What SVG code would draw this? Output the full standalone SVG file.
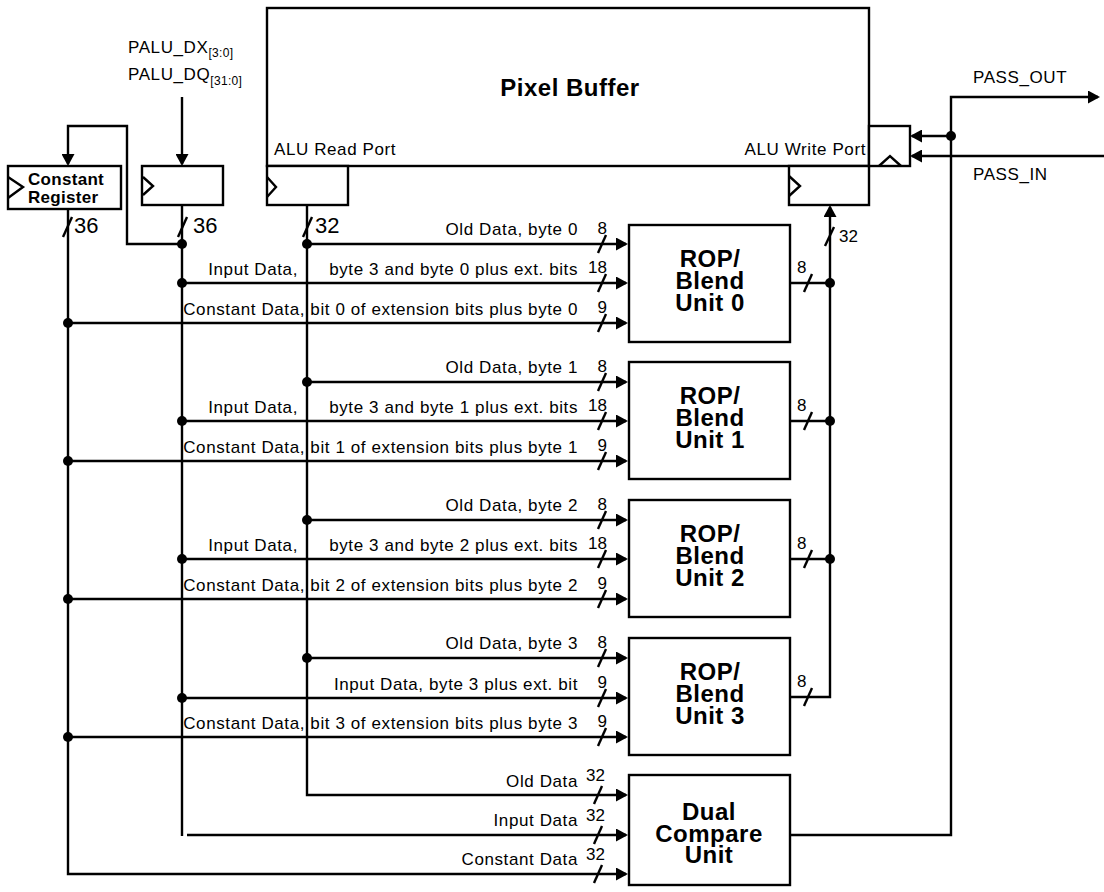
<svg xmlns="http://www.w3.org/2000/svg" width="1104" height="892" viewBox="0 0 1104 892">
<style>
.box{fill:#fff;stroke:#000;stroke-width:2.4}
.w{fill:none;stroke:#000;stroke-width:2.4}
.a{fill:none;stroke:#000;stroke-width:2.4;marker-end:url(#ah)}
.s{stroke:#000;stroke-width:2.4}
.t{font-family:"Liberation Sans",Arial,Helvetica,sans-serif;font-size:17px;letter-spacing:0.6px;fill:#000}
.n{font-family:"Liberation Sans",Arial,Helvetica,sans-serif;font-size:17px;fill:#000}
.big{font-family:"Liberation Sans",Arial,Helvetica,sans-serif;font-size:22px;fill:#000}
.sub{font-family:"Liberation Sans",Arial,Helvetica,sans-serif;font-size:12px;fill:#000}
.bt{font-family:"Liberation Sans",Arial,Helvetica,sans-serif;font-weight:bold;font-size:24px;letter-spacing:0.5px;text-anchor:middle;fill:#000}
.cr{font-family:"Liberation Sans",Arial,Helvetica,sans-serif;font-weight:bold;font-size:17px;letter-spacing:0.3px;fill:#000}
.e{text-anchor:end}
</style>
<defs>
<marker id="ah" markerUnits="userSpaceOnUse" markerWidth="12" markerHeight="13" refX="10" refY="6.5" orient="auto">
<path d="M0,0 L12,6.5 L0,13 z" fill="#000"/>
</marker>
</defs>

<g id="connectors">
<!-- feedback & input -->
<path class="a" d="M182,97 V164"/>
<path class="a" d="M182,244 H127 V126 H68 V164"/>
<!-- read port bus -->
<path class="a" d="M307,205 V795 H626"/>
<path class="a" d="M307,244 H626"/>
<path class="a" d="M307,382 H626"/>
<path class="a" d="M307,520 H626"/>
<path class="a" d="M307,658 H626"/>
<!-- input bus -->
<path class="w" d="M182,205 V836"/>
<path class="a" d="M187,835 H626"/>
<path class="a" d="M182,283 H626"/>
<path class="a" d="M182,421 H626"/>
<path class="a" d="M182,559 H626"/>
<path class="a" d="M182,698 H626"/>
<!-- constant bus -->
<path class="a" d="M68,209 V874 H626"/>
<path class="a" d="M68,323 H626"/>
<path class="a" d="M68,461 H626"/>
<path class="a" d="M68,599 H626"/>
<path class="a" d="M68,737 H626"/>
<!-- unit outputs -->
<path class="w" d="M790,283 H830"/>
<path class="w" d="M790,421 H830"/>
<path class="w" d="M790,559 H830"/>
<path class="a" d="M790,697 H830 V207"/>
<!-- dual compare output / pass -->
<path class="a" d="M790,835 H951 V97 H1098"/>
<path class="a" d="M951,136 H912"/>
<path class="a" d="M1104,156 H912"/>
<!-- dots -->
<g fill="#000">
<circle cx="182" cy="244" r="5"/><circle cx="307" cy="244" r="5"/>
<circle cx="182" cy="283" r="5"/><circle cx="68" cy="323" r="5"/>
<circle cx="307" cy="382" r="5"/><circle cx="182" cy="421" r="5"/><circle cx="68" cy="461" r="5"/>
<circle cx="307" cy="520" r="5"/><circle cx="182" cy="559" r="5"/><circle cx="68" cy="599" r="5"/>
<circle cx="307" cy="658" r="5"/><circle cx="182" cy="698" r="5"/><circle cx="68" cy="737" r="5"/>
<circle cx="830" cy="283" r="5"/><circle cx="830" cy="421" r="5"/><circle cx="830" cy="559" r="5"/>
<circle cx="951" cy="136" r="5"/>
</g>
<!-- bus slashes -->
<g class="s">
<line x1="63" y1="237" x2="72" y2="217"/>
<line x1="178" y1="237" x2="187" y2="217"/>
<line x1="303" y1="237" x2="312" y2="217"/>
<line x1="825" y1="246" x2="834" y2="227"/>
<line x1="598" y1="253" x2="606" y2="235"/>
<line x1="598" y1="292" x2="606" y2="274"/>
<line x1="598" y1="332" x2="606" y2="314"/>
<line x1="598" y1="391" x2="606" y2="373"/>
<line x1="598" y1="430" x2="606" y2="412"/>
<line x1="598" y1="470" x2="606" y2="452"/>
<line x1="598" y1="529" x2="606" y2="511"/>
<line x1="598" y1="568" x2="606" y2="550"/>
<line x1="598" y1="608" x2="606" y2="590"/>
<line x1="598" y1="667" x2="606" y2="649"/>
<line x1="598" y1="707" x2="606" y2="689"/>
<line x1="598" y1="746" x2="606" y2="728"/>
<line x1="594" y1="804" x2="602" y2="786"/>
<line x1="594" y1="844" x2="602" y2="826"/>
<line x1="594" y1="883" x2="602" y2="865"/>
<line x1="804" y1="292" x2="812" y2="274"/>
<line x1="804" y1="430" x2="812" y2="412"/>
<line x1="804" y1="568" x2="812" y2="550"/>
<line x1="804" y1="706" x2="812" y2="688"/>
</g>
<!-- bus widths -->
<text class="big" x="74" y="233">36</text>
<text class="big" x="193" y="233">36</text>
<text class="big" x="315" y="233">32</text>
<text class="n" x="839" y="242">32</text>
<g class="n e">
<text x="607" y="234">8</text><text x="607" y="273">18</text><text x="607" y="313">9</text>
<text x="607" y="372">8</text><text x="607" y="411">18</text><text x="607" y="451">9</text>
<text x="607" y="510">8</text><text x="607" y="549">18</text><text x="607" y="589">9</text>
<text x="607" y="648">8</text><text x="607" y="688">9</text><text x="607" y="727">9</text>
<text x="605" y="781">32</text><text x="605" y="821">32</text><text x="605" y="860">32</text>
</g>
<g class="n">
<text x="797" y="273">8</text><text x="797" y="411">8</text><text x="797" y="549">8</text><text x="797" y="687">8</text>
</g>
<!-- line labels -->
<g class="t e">
<text x="578" y="235">Old Data, byte 0</text>
<text x="298" y="275">Input Data,</text><text x="578" y="275">byte 3 and byte 0 plus ext. bits</text>
<text x="578" y="315">Constant Data, bit 0 of extension bits plus byte 0</text>
<text x="578" y="373">Old Data, byte 1</text>
<text x="298" y="413">Input Data,</text><text x="578" y="413">byte 3 and byte 1 plus ext. bits</text>
<text x="578" y="453">Constant Data, bit 1 of extension bits plus byte 1</text>
<text x="578" y="511">Old Data, byte 2</text>
<text x="298" y="551">Input Data,</text><text x="578" y="551">byte 3 and byte 2 plus ext. bits</text>
<text x="578" y="591">Constant Data, bit 2 of extension bits plus byte 2</text>
<text x="578" y="649">Old Data, byte 3</text>
<text x="578" y="690">Input Data, byte 3 plus ext. bit</text>
<text x="578" y="729">Constant Data, bit 3 of extension bits plus byte 3</text>
<text x="578" y="787">Old Data</text>
<text x="578" y="826">Input Data</text>
<text x="578" y="865">Constant Data</text>
</g>
<text class="t" x="973" y="83">PASS_OUT</text>
<text class="t" x="973" y="180">PASS_IN</text>
<text class="t" x="128" y="53">PALU_DX<tspan class="sub" dy="4" letter-spacing="0.3">[3:0]</tspan></text>
<text class="t" x="128" y="80">PALU_DQ<tspan class="sub" dy="5" letter-spacing="0.3">[31:0]</tspan></text>
</g>

<g id="pixel-buffer">
<rect class="box" x="267" y="8" width="602" height="158"/>
<text class="bt" x="570" y="96" font-size="25">Pixel Buffer</text>
<text class="t" x="274" y="155">ALU Read Port</text>
<text class="t e" x="866" y="155">ALU Write Port</text>
</g>
<g id="read-port-reg">
<rect class="box" x="267" y="166" width="81" height="39"/>
<path class="w" d="M267,177 L276,187 L267,197"/>
</g>
<g id="write-port-reg">
<rect class="box" x="789" y="166" width="80" height="39"/>
<path class="w" d="M789,176 L800,186 L789,196"/>
</g>
<g id="pass-reg">
<rect class="box" x="869" y="126" width="41" height="40"/>
<path class="w" d="M879,166 L890,156 L901,166"/>
</g>
<g id="input-reg">
<rect class="box" x="142" y="166" width="81" height="39"/>
<path class="w" d="M143,177 L153,186 L143,195"/>
</g>
<g id="constant-reg">
<rect class="box" x="8" y="166" width="113" height="43"/>
<path class="w" d="M8,177 L23,187 L8,198"/>
<text class="cr" x="28" y="185">Constant</text>
<text class="cr" x="28" y="203">Register</text>
</g>
<g id="rop0">
<rect class="box" x="629" y="225" width="161" height="117"/>
<text class="bt" x="710" y="267">ROP/</text><text class="bt" x="710" y="289">Blend</text><text class="bt" x="710" y="311">Unit 0</text>
</g>
<g id="rop1">
<rect class="box" x="629" y="362" width="161" height="117"/>
<text class="bt" x="710" y="404">ROP/</text><text class="bt" x="710" y="426">Blend</text><text class="bt" x="710" y="448">Unit 1</text>
</g>
<g id="rop2">
<rect class="box" x="629" y="500" width="161" height="117"/>
<text class="bt" x="710" y="542">ROP/</text><text class="bt" x="710" y="564">Blend</text><text class="bt" x="710" y="586">Unit 2</text>
</g>
<g id="rop3">
<rect class="box" x="629" y="638" width="161" height="117"/>
<text class="bt" x="710" y="680">ROP/</text><text class="bt" x="710" y="702">Blend</text><text class="bt" x="710" y="724">Unit 3</text>
</g>
<g id="dual-compare">
<rect class="box" x="629" y="775" width="161" height="110"/>
<text class="bt" x="709" y="820">Dual</text><text class="bt" x="709" y="842">Compare</text><text class="bt" x="709" y="863">Unit</text>
</g>
</svg>
